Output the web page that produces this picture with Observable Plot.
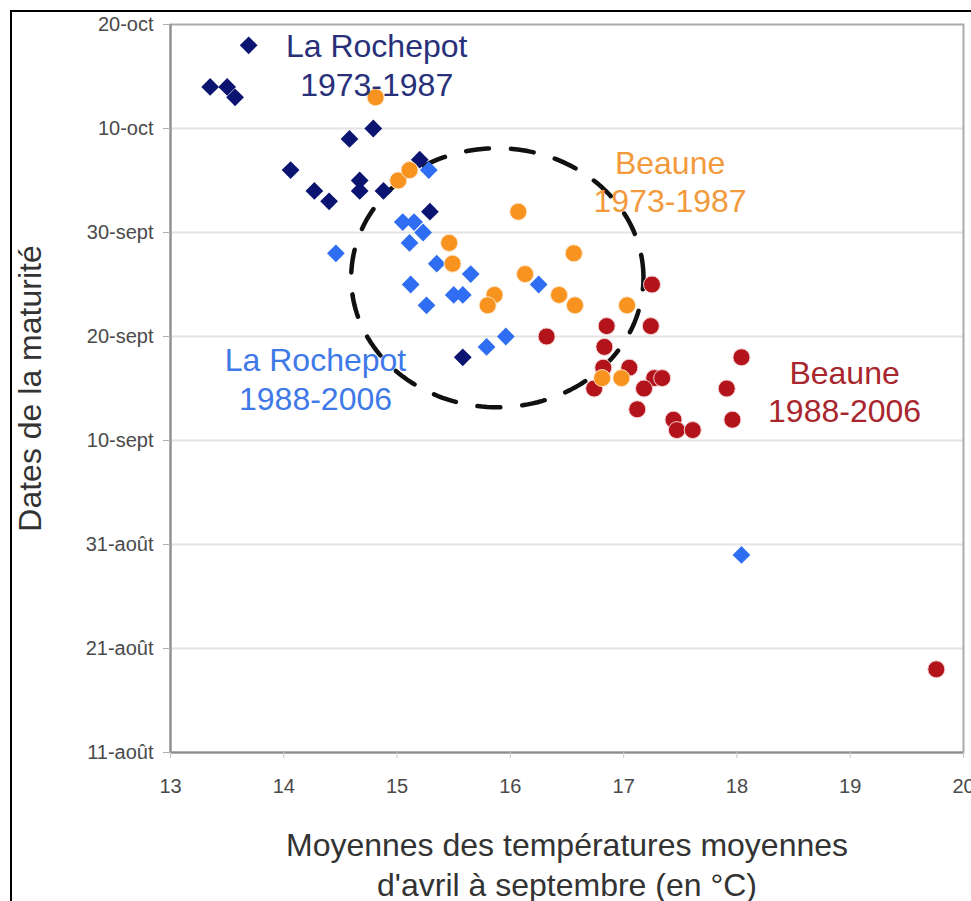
<!DOCTYPE html>
<html>
<head>
<meta charset="utf-8">
<script src="https://cdn.jsdelivr.net/npm/d3@7"></script>
<script src="https://cdn.jsdelivr.net/npm/@observablehq/plot@0.6"></script>
<style>
  html, body { margin: 0; padding: 0; background: #fff; overflow: hidden; }
  body { width: 971px; height: 901px; position: relative; }
  #border { position: absolute; left: 10px; top: 10px; width: 2000px; height: 2000px;
            border-left: 2px solid #000; border-top: 2px solid #000; }
  #chart { position: absolute; left: 0; top: 0; }
</style>
</head>
<body>
<div id="border"></div>
<div id="chart"></div>
<script>
// ---- Data (temperature °C, maturity date MM-DD) ----
const rochepot7387Temp = [13.69, 13.35, 13.50, 13.57, 14.79, 14.58, 14.06, 14.27, 14.40, 14.67, 14.67, 14.88, 15.20, 15.29, 15.58];
const rochepot7387Date = ["10-18","10-14","10-14","10-13","10-10","10-09","10-06","10-04","10-03","10-05","10-04","10-04","10-07","10-02","09-18"];

const rochepot8806Temp = [15.28, 15.05, 15.15, 15.23, 15.11, 14.46, 15.35, 15.65, 15.12, 15.50, 15.58, 15.26, 16.25, 15.96, 15.79, 18.04];
const rochepot8806Date = ["10-06","10-01","10-01","09-30","09-29","09-28","09-27","09-26","09-25","09-24","09-24","09-23","09-25","09-20","09-19","08-30"];

const beaune7387Temp = [14.81, 15.01, 15.11, 16.07, 15.46, 15.49, 16.56, 16.13, 15.86, 15.80, 16.43, 16.57, 17.03, 16.81, 16.98];
const beaune7387Date = ["10-13","10-05","10-06","10-02","09-29","09-27","09-28","09-26","09-24","09-23","09-24","09-23","09-23","09-16","09-16"];

const beaune8806Temp = [17.25, 16.85, 17.24, 16.83, 18.04, 16.82, 17.05, 17.27, 17.34, 16.74, 17.18, 17.91, 17.12, 17.44, 17.47, 17.61, 17.96, 16.32, 19.76];
const beaune8806Date = ["09-25","09-21","09-21","09-19","09-18","09-17","09-17","09-16","09-16","09-15","09-15","09-15","09-13","09-12","09-11","09-11","09-12","09-20","08-19"];

// ---- Axis ticks ----
const xTicks = [13, 14, 15, 16, 17, 18, 19, 20];
const yTicks = ["08-11","08-21","08-31","09-10","09-20","09-30","10-10","10-20"];
const yTickLabels = ["11-août","21-août","31-août","10-sept","20-sept","30-sept","10-oct","20-oct"];

// ---- Annotations ----
const seriesLabels = ["La Rochepot\n1973-1987", "Beaune\n1973-1987", "La Rochepot\n1988-2006", "Beaune\n1988-2006"];
const seriesLabelTemp = [14.82, 17.41, 14.28, 18.95];
const seriesLabelDays = [66.2, 55.0, 36.0, 34.8]; // days after 11-août
const ellipseCenterTemp = 15.885, ellipseCenterDays = 45.65, ellipseRadiusTemp = 1.29, ellipseRadiusDays = 12.45;

// ---- Helpers ----
const YEAR = 2001;
const parseMD = s => { const [m, d] = s.split("-").map(Number); return new Date(Date.UTC(YEAR, m - 1, d)); };
const base = Date.UTC(YEAR, 7, 11);
const fromDays = d => new Date(base + d * 864e5);
const toRows = (t, d) => t.map((x, i) => ({temp: x, date: parseMD(d[i])}));

const r7387 = toRows(rochepot7387Temp, rochepot7387Date);
const r8806 = toRows(rochepot8806Temp, rochepot8806Date);
const b7387 = toRows(beaune7387Temp, beaune7387Date);
const b8806 = toRows(beaune8806Temp, beaune8806Date);

const yTickDates = yTicks.map(parseMD);
const labelMap = new Map(yTickDates.map((d, i) => [+d, yTickLabels[i]]));

const ellipse = d3.range(0, 181).map(k => {
  const a = (k / 180) * 2 * Math.PI;
  return {temp: ellipseCenterTemp + ellipseRadiusTemp * Math.cos(a), date: fromDays(ellipseCenterDays + ellipseRadiusDays * Math.sin(a))};
});

const labels = seriesLabels.map((t, i) => ({text: t, temp: seriesLabelTemp[i], date: fromDays(seriesLabelDays[i])}));
const labelColors = ["#28307a", "#f29a3c", "#3f79e8", "#a8262d"];

const FONT = "'Liberation Sans', Arial, Helvetica, sans-serif";

const chart = Plot.plot({
  width: 971,
  height: 901,
  marginLeft: 170,
  marginRight: 8,
  marginTop: 24,
  marginBottom: 149,
  style: {fontFamily: FONT, background: "transparent", overflow: "visible"},
  x: {domain: [13, 20]},
  y: {type: "utc", domain: [yTickDates[0], yTickDates[yTickDates.length - 1]]},
  marks: [
    Plot.ruleY(yTickDates.slice(1, -1), {stroke: "#e4e4e4", strokeWidth: 2}),
    Plot.frame({stroke: "#ababab", strokeWidth: 2}),
    Plot.ruleX([13], {stroke: "#8c8c8c", strokeWidth: 2}),
    Plot.ruleY([yTickDates[0]], {stroke: "#8c8c8c", strokeWidth: 2}),
    Plot.axisY({ticks: yTickDates, tickFormat: d => labelMap.get(+d), tickSize: 7, tickPadding: 10,
                fontSize: 20, fill: "#4a4a4a", stroke: "#b0b0b0", label: null}),
    Plot.axisX({ticks: xTicks, tickFormat: d => String(d), tickSize: 6, tickPadding: 20,
                fontSize: 20, fill: "#4a4a4a", stroke: "#c8c8c8", label: null}),
    Plot.line(ellipse, {x: "temp", y: "date", stroke: "#111", strokeWidth: 4.5, strokeDasharray: "23,22", curve: "linear"}),
    Plot.dot(b8806, {x: "temp", y: "date", r: 8.5, fill: "#b3131b", stroke: "#f3d0d0", strokeWidth: 1}),
    Plot.dot(r8806, {x: "temp", y: "date", r: 8, symbol: "diamond2", fill: "#2f6ef2", stroke: "none"}),
    Plot.dot(r7387, {x: "temp", y: "date", r: 8, symbol: "diamond2", fill: "#0b1470", stroke: "none"}),
    Plot.dot(b7387, {x: "temp", y: "date", r: 8.5, fill: "#f7931e", stroke: "#fde3c4", strokeWidth: 1}),
    Plot.text(labels, {x: "temp", y: "date", text: "text", fill: (d, i) => labelColors[i], fontSize: 32,
                       lineHeight: 1.2, textAnchor: "middle", lineAnchor: "middle"}),
    Plot.text(["Dates de la maturité"], {frameAnchor: "left", dx: -140, rotate: -90, fontSize: 32,
                       fill: "#333", textAnchor: "middle", lineAnchor: "middle"}),
    Plot.text(["Moyennes des températures moyennes\nd'avril à septembre (en °C)"],
              {frameAnchor: "bottom", dy: 111, fontSize: 32, fill: "#333", lineHeight: 1.22,
               textAnchor: "middle", lineAnchor: "middle"})
  ]
});
document.getElementById("chart").appendChild(chart);
</script>
</body>
</html>
